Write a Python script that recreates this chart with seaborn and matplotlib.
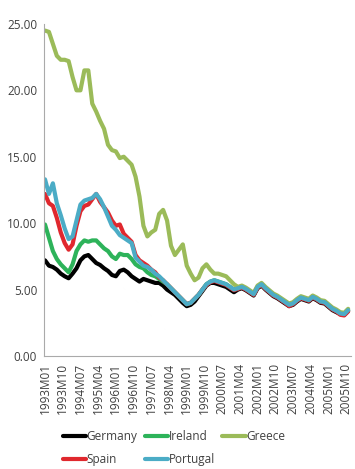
import numpy as np
import pandas as pd
import matplotlib
matplotlib.use("Agg")
import matplotlib.pyplot as plt
from matplotlib.ticker import MultipleLocator, FixedLocator
import seaborn as sns

# month index (0 = 1993M01), sampled every two months
month_idx = list(range(0, 156, 2))

tick_months = [0, 9, 18, 27, 36, 45, 54, 63, 72, 81, 90, 99, 108, 117, 126, 135, 144, 153]
tick_labels = ['1993M01', '1993M10', '1994M07', '1995M04', '1996M01', '1996M10',
               '1997M07', '1998M04', '1999M01', '1999M10', '2000M07', '2001M04',
               '2002M01', '2002M10', '2003M07', '2004M04', '2005M01', '2005M10']

germany = [7.2, 6.8, 6.7, 6.5, 6.2, 6.0, 5.85, 6.2, 6.6, 7.2, 7.5, 7.6, 7.3, 7.0, 6.85, 6.6,
           6.4, 6.1, 6.0, 6.4, 6.5, 6.3, 6.0, 5.8, 5.6, 5.8, 5.7, 5.6, 5.5, 5.5, 5.3,
           5.0, 4.8, 4.6, 4.3, 4.0, 3.75, 3.85, 4.1, 4.5, 4.9, 5.3, 5.5, 5.5, 5.4, 5.3, 5.2, 5.0, 4.8,
           5.0, 5.1, 4.95, 4.75, 4.55, 5.1, 5.3, 5.0, 4.75, 4.5, 4.35, 4.15, 3.95, 3.75, 3.85,
           4.1, 4.3, 4.2, 4.1, 4.35, 4.2, 4.0, 3.95, 3.7, 3.45, 3.3, 3.15, 3.1, 3.4]

ireland = [9.9, 8.9, 7.9, 7.3, 6.9, 6.6, 6.3, 6.9, 7.9, 8.4, 8.7, 8.6, 8.7, 8.7, 8.4, 8.1,
           7.9, 7.5, 7.3, 7.7, 7.6, 7.6, 7.3, 6.9, 6.7, 6.6, 6.3, 6.1, 6.0, 5.8, 5.6, 5.4,
           5.1, 4.8, 4.5, 4.2, 3.9, 4.0, 4.3, 4.6, 5.0, 5.4, 5.6, 5.7, 5.6, 5.5, 5.4, 5.2, 5.0,
           5.1, 5.2, 5.05, 4.85, 4.65, 5.2, 5.4, 5.1, 4.85, 4.6, 4.45, 4.25, 4.05, 3.85, 3.95,
           4.2, 4.4, 4.3, 4.2, 4.45, 4.3, 4.1, 4.05, 3.8, 3.55, 3.4, 3.2, 3.15, 3.45]

greece = [24.5, 24.4, 23.5, 22.6, 22.3, 22.3, 22.2, 21.0, 20.0, 20.0, 21.5, 21.5, 19.0, 18.4,
          17.7, 17.1, 15.9, 15.5, 15.4, 14.9, 15.0, 14.7, 14.4, 13.5, 12.0, 9.8, 9.0, 9.3,
          9.5, 10.7, 11.0, 10.2, 8.3, 7.6, 8.0, 8.4, 6.8, 6.2, 5.7, 5.9, 6.6, 6.9, 6.5, 6.2,
          6.2, 6.1, 6.0, 5.7, 5.4,
          5.2, 5.3, 5.15, 4.95, 4.75, 5.3, 5.5, 5.2, 4.95, 4.7, 4.55, 4.35, 4.15, 3.95, 4.05,
          4.3, 4.5, 4.4, 4.3, 4.55, 4.4, 4.2, 4.15, 3.9, 3.65, 3.5, 3.3, 3.25, 3.55]

spain = [12.2, 11.5, 11.3, 10.4, 9.3, 8.5, 8.0, 8.4, 9.8, 10.9, 11.3, 11.4, 11.8, 12.2, 11.6,
         11.2, 10.8, 10.2, 9.8, 9.9, 9.2, 8.9, 8.6, 7.6, 7.2, 7.0, 6.8, 6.5, 6.3, 5.9, 5.7,
         5.4, 5.1, 4.8, 4.5, 4.2, 3.9, 4.0, 4.3, 4.6, 5.0, 5.35, 5.55, 5.65, 5.55, 5.45, 5.35, 5.15, 4.95,
         5.05, 5.15, 5.0, 4.8, 4.6, 5.15, 5.35, 5.05, 4.8, 4.55, 4.4, 4.2, 4.0, 3.75, 3.9,
         4.15, 4.35, 4.25, 4.15, 4.4, 4.25, 4.05, 4.0, 3.75, 3.5, 3.35, 3.1, 3.05, 3.35]

portugal = [13.3, 12.2, 13.0, 11.5, 10.6, 9.6, 8.8, 9.0, 10.2, 11.4, 11.7, 11.8, 11.9, 12.2,
            11.8, 11.2, 10.5, 9.8, 9.5, 9.1, 8.9, 8.7, 8.5, 7.4, 7.1, 6.8, 6.7, 6.5, 6.2, 6.0, 5.7,
            5.4, 5.1, 4.8, 4.5, 4.2, 3.9, 4.0, 4.3, 4.6, 5.0, 5.4, 5.6, 5.7, 5.6, 5.5, 5.4, 5.2, 5.0,
            5.1, 5.2, 5.05, 4.85, 4.65, 5.2, 5.4, 5.1, 4.85, 4.6, 4.45, 4.25, 4.05, 3.85, 3.95,
            4.2, 4.4, 4.3, 4.2, 4.45, 4.3, 4.1, 4.05, 3.8, 3.55, 3.4, 3.2, 3.15, 3.45]

countries = ['Germany', 'Ireland', 'Greece', 'Spain', 'Portugal']
colors = ['#000000', '#2DB35A', '#9BBB59', '#E0282E', '#4BACC6']

df = pd.DataFrame({'month': month_idx, 'Germany': germany, 'Ireland': ireland,
                   'Greece': greece, 'Spain': spain, 'Portugal': portugal})
long = df.melt(id_vars='month', var_name='country', value_name='rate')

sns.set_style("white")
plt.rcParams['font.family'] = ['Open Sans', 'DejaVu Sans']

fig = plt.figure(figsize=(3.55, 4.69), dpi=100)
ax = fig.add_axes([0.124, 0.241, 0.865, 0.708])

sns.lineplot(data=long, x='month', y='rate', hue='country', hue_order=countries,
             palette=colors, linewidth=3.0, ax=ax, legend=False)

ax.set_xlim(-0.5, 155.5)
ax.set_ylim(0, 25)
ax.set_yticks([0, 5, 10, 15, 20, 25])
ax.set_yticklabels([f"{v:.2f}" for v in [0, 5, 10, 15, 20, 25]], fontsize=8.5, color='#404040')
ax.xaxis.set_major_locator(FixedLocator(tick_months))
ax.set_xticklabels(tick_labels, rotation=90, fontsize=8.5, color='#404040')
ax.xaxis.set_minor_locator(MultipleLocator(1))
ax.tick_params(axis='x', which='both', direction='out', length=3, width=0.5, color='#aaaaaa', pad=2)
ax.tick_params(axis='y', direction='out', length=3, width=0.6, color='#aaaaaa', pad=2)
ax.set_xlabel('')
ax.set_ylabel('')
for s in ['top', 'right']:
    ax.spines[s].set_visible(False)
for s in ['left', 'bottom']:
    ax.spines[s].set_color('#aaaaaa')
    ax.spines[s].set_linewidth(0.8)

handles = [plt.Line2D([], [], color=c, linewidth=3.0) for c in colors]
order = [0, 3, 1, 4, 2]
fig.legend([handles[i] for i in order], [countries[i] for i in order], ncol=3,
           loc='center', bbox_to_anchor=(0.49, 0.045), frameon=False, fontsize=8.5,
           labelcolor='#404040', handlelength=2.0, handletextpad=0.05,
           columnspacing=0.6, labelspacing=0.85)

fig.savefig('out.png', dpi=100)
